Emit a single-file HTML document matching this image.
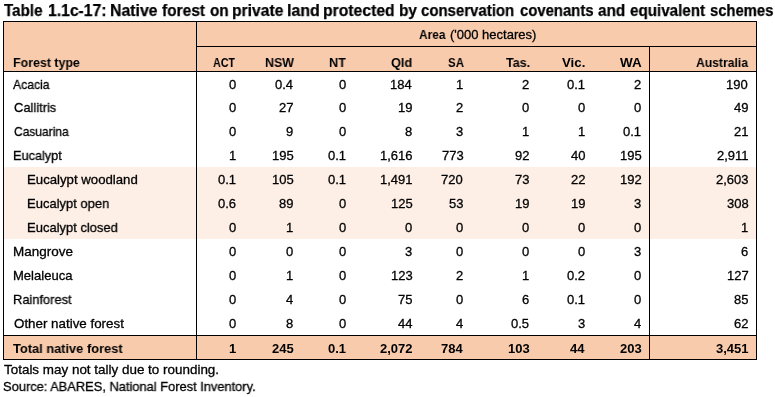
<!DOCTYPE html><html><head><meta charset="utf-8"><style>
html,body{margin:0;padding:0;background:#fff;width:775px;height:397px;overflow:hidden;position:relative}
body{font-family:"Liberation Sans",sans-serif;color:#000}
.t{position:absolute;white-space:nowrap;line-height:1;transform-origin:0 0;will-change:transform}
.b{position:absolute}
</style></head><body>
<div class="b" style="left:4px;top:22px;width:752px;height:49px;background:#F8CBAD"></div>
<div class="b" style="left:4px;top:167px;width:752px;height:72px;background:#FDEFE6"></div>
<div class="b" style="left:4px;top:336px;width:752px;height:23px;background:#F8CBAD"></div>
<div class="b" style="left:3px;top:21px;width:754px;height:1px;background:#000"></div>
<div class="b" style="left:3px;top:21px;width:1px;height:339px;background:#000"></div>
<div class="b" style="left:756px;top:21px;width:1px;height:339px;background:#000"></div>
<div class="b" style="left:3px;top:359px;width:754px;height:1px;background:#000"></div>
<div class="b" style="left:196px;top:21px;width:1px;height:339px;background:#000"></div>
<div class="b" style="left:196px;top:46px;width:561px;height:1px;background:#000"></div>
<div class="b" style="left:649px;top:46px;width:1px;height:314px;background:#000"></div>
<div class="b" style="left:3px;top:71px;width:754px;height:1px;background:#000"></div>
<div class="b" style="left:3px;top:335px;width:754px;height:1px;background:#000"></div>
<div class="t" style="left:4.20px;top:2px;font-size:16.5px;font-weight:bold;-webkit-text-stroke:0.25px #000;transform:scaleX(0.9190)">Table</div>
<div class="t" style="left:47.75px;top:2px;font-size:16.5px;font-weight:bold;-webkit-text-stroke:0.25px #000;transform:scaleX(0.9525)">1.1c-17:</div>
<div class="t" style="left:109.94px;top:2px;font-size:16.5px;font-weight:bold;-webkit-text-stroke:0.25px #000;transform:scaleX(0.9604)">Native</div>
<div class="t" style="left:161.70px;top:2px;font-size:16.5px;font-weight:bold;-webkit-text-stroke:0.25px #000;transform:scaleX(0.9391)">forest</div>
<div class="t" style="left:209.90px;top:2px;font-size:16.5px;font-weight:bold;-webkit-text-stroke:0.25px #000;transform:scaleX(0.9263)">on</div>
<div class="t" style="left:231.65px;top:2px;font-size:16.5px;font-weight:bold;-webkit-text-stroke:0.25px #000;transform:scaleX(0.9491)">private</div>
<div class="t" style="left:287.03px;top:2px;font-size:16.5px;font-weight:bold;-webkit-text-stroke:0.25px #000;transform:scaleX(0.9688)">land</div>
<div class="t" style="left:323.25px;top:2px;font-size:16.5px;font-weight:bold;-webkit-text-stroke:0.25px #000;transform:scaleX(0.9534)">protected</div>
<div class="t" style="left:399.27px;top:2px;font-size:16.5px;font-weight:bold;-webkit-text-stroke:0.25px #000;transform:scaleX(0.9333)">by</div>
<div class="t" style="left:421.40px;top:2px;font-size:16.5px;font-weight:bold;-webkit-text-stroke:0.25px #000;transform:scaleX(0.9078)">conservation</div>
<div class="t" style="left:520.00px;top:2px;font-size:16.5px;font-weight:bold;-webkit-text-stroke:0.25px #000;transform:scaleX(0.9012)">covenants</div>
<div class="t" style="left:598.00px;top:2px;font-size:16.5px;font-weight:bold;-webkit-text-stroke:0.25px #000;transform:scaleX(0.9276)">and</div>
<div class="t" style="left:629.80px;top:2px;font-size:16.5px;font-weight:bold;-webkit-text-stroke:0.25px #000;transform:scaleX(0.9207)">equivalent</div>
<div class="t" style="left:710.20px;top:2px;font-size:16.5px;font-weight:bold;-webkit-text-stroke:0.25px #000;transform:scaleX(0.8971)">schemes</div>
<div class="t" style="left:418.70px;top:28px;font-size:13.0px;font-weight:bold;transform:scaleX(0.9138)">Area</div>
<div class="t" style="left:449.90px;top:28px;font-size:13.0px;-webkit-text-stroke:0.3px #000;transform:scaleX(1.0000)">('000 hectares)</div>
<div class="t" style="left:12.65px;top:56px;font-size:13.0px;font-weight:bold;transform:scaleX(0.9536)">Forest type</div>
<div class="t" style="left:213.30px;top:56px;font-size:13.0px;font-weight:bold;transform:scaleX(0.8222)">ACT</div>
<div class="t" style="left:264.54px;top:56px;font-size:13.0px;font-weight:bold;transform:scaleX(0.9552)">NSW</div>
<div class="t" style="left:329.23px;top:56px;font-size:13.0px;font-weight:bold;transform:scaleX(0.9688)">NT</div>
<div class="t" style="left:391.00px;top:56px;font-size:13.0px;font-weight:bold;transform:scaleX(0.9762)">Qld</div>
<div class="t" style="left:447.71px;top:56px;font-size:13.0px;font-weight:bold;transform:scaleX(0.8882)">SA</div>
<div class="t" style="left:506.40px;top:56px;font-size:13.0px;font-weight:bold;transform:scaleX(0.9625)">Tas.</div>
<div class="t" style="left:562.40px;top:56px;font-size:13.0px;font-weight:bold;transform:scaleX(1.0182)">Vic.</div>
<div class="t" style="left:620.10px;top:56px;font-size:13.0px;font-weight:bold;transform:scaleX(1.0350)">WA</div>
<div class="t" style="left:695.70px;top:56px;font-size:13.0px;font-weight:bold;transform:scaleX(0.9339)">Australia</div>
<div class="t" style="left:13.10px;top:78px;font-size:13.0px;-webkit-text-stroke:0.3px #000;transform:scaleX(0.9359)">Acacia</div>
<div class="t" style="left:13.80px;top:101px;font-size:13.0px;-webkit-text-stroke:0.3px #000;transform:scaleX(0.9905)">Callitris</div>
<div class="t" style="left:13.80px;top:125px;font-size:13.0px;-webkit-text-stroke:0.3px #000;transform:scaleX(0.9233)">Casuarina</div>
<div class="t" style="left:12.82px;top:149px;font-size:13.0px;-webkit-text-stroke:0.3px #000;transform:scaleX(0.9776)">Eucalypt</div>
<div class="t" style="left:27.19px;top:173px;font-size:13.0px;-webkit-text-stroke:0.3px #000;transform:scaleX(1.0148)">Eucalypt woodland</div>
<div class="t" style="left:27.20px;top:197px;font-size:13.0px;-webkit-text-stroke:0.3px #000;transform:scaleX(0.9975)">Eucalypt open</div>
<div class="t" style="left:27.20px;top:221px;font-size:13.0px;-webkit-text-stroke:0.3px #000;transform:scaleX(0.9978)">Eucalypt closed</div>
<div class="t" style="left:12.76px;top:245px;font-size:13.0px;-webkit-text-stroke:0.3px #000;transform:scaleX(1.0357)">Mangrove</div>
<div class="t" style="left:12.80px;top:269px;font-size:13.0px;-webkit-text-stroke:0.3px #000;transform:scaleX(1.0034)">Melaleuca</div>
<div class="t" style="left:12.81px;top:293px;font-size:13.0px;-webkit-text-stroke:0.3px #000;transform:scaleX(0.9881)">Rainforest</div>
<div class="t" style="left:13.80px;top:317px;font-size:13.0px;-webkit-text-stroke:0.3px #000;transform:scaleX(1.0271)">Other native forest</div>
<div class="t" style="left:12.90px;top:342px;font-size:13.0px;font-weight:bold;transform:scaleX(0.9865)">Total native forest</div>
<div class="t" style="left:4.20px;top:363px;font-size:13.0px;-webkit-text-stroke:0.3px #000;transform:scaleX(1.0333)">Totals may not tally due to rounding.</div>
<div class="t" style="left:3.21px;top:380px;font-size:13.0px;-webkit-text-stroke:0.3px #000;transform:scaleX(0.9886)">Source: ABARES, National Forest Inventory.</div>
<div class="t" style="left:228.50px;top:78px;font-size:13.0px;-webkit-text-stroke:0.3px #000;">0</div>
<div class="t" style="left:275.30px;top:78px;font-size:13.0px;-webkit-text-stroke:0.3px #000;">0.4</div>
<div class="t" style="left:338.70px;top:78px;font-size:13.0px;-webkit-text-stroke:0.3px #000;">0</div>
<div class="t" style="left:389.60px;top:78px;font-size:13.0px;-webkit-text-stroke:0.3px #000;">184</div>
<div class="t" style="left:456.10px;top:78px;font-size:13.0px;-webkit-text-stroke:0.3px #000;">1</div>
<div class="t" style="left:522.20px;top:78px;font-size:13.0px;-webkit-text-stroke:0.3px #000;">2</div>
<div class="t" style="left:566.50px;top:78px;font-size:13.0px;-webkit-text-stroke:0.3px #000;">0.1</div>
<div class="t" style="left:633.80px;top:78px;font-size:13.0px;-webkit-text-stroke:0.3px #000;">2</div>
<div class="t" style="left:726.00px;top:78px;font-size:13.0px;-webkit-text-stroke:0.3px #000;">190</div>
<div class="t" style="left:228.50px;top:101px;font-size:13.0px;-webkit-text-stroke:0.3px #000;">0</div>
<div class="t" style="left:279.30px;top:101px;font-size:13.0px;-webkit-text-stroke:0.3px #000;">27</div>
<div class="t" style="left:338.70px;top:101px;font-size:13.0px;-webkit-text-stroke:0.3px #000;">0</div>
<div class="t" style="left:397.60px;top:101px;font-size:13.0px;-webkit-text-stroke:0.3px #000;">19</div>
<div class="t" style="left:456.10px;top:101px;font-size:13.0px;-webkit-text-stroke:0.3px #000;">2</div>
<div class="t" style="left:522.20px;top:101px;font-size:13.0px;-webkit-text-stroke:0.3px #000;">0</div>
<div class="t" style="left:577.50px;top:101px;font-size:13.0px;-webkit-text-stroke:0.3px #000;">0</div>
<div class="t" style="left:633.80px;top:101px;font-size:13.0px;-webkit-text-stroke:0.3px #000;">0</div>
<div class="t" style="left:734.00px;top:101px;font-size:13.0px;-webkit-text-stroke:0.3px #000;">49</div>
<div class="t" style="left:228.50px;top:125px;font-size:13.0px;-webkit-text-stroke:0.3px #000;">0</div>
<div class="t" style="left:286.30px;top:125px;font-size:13.0px;-webkit-text-stroke:0.3px #000;">9</div>
<div class="t" style="left:338.70px;top:125px;font-size:13.0px;-webkit-text-stroke:0.3px #000;">0</div>
<div class="t" style="left:404.60px;top:125px;font-size:13.0px;-webkit-text-stroke:0.3px #000;">8</div>
<div class="t" style="left:456.10px;top:125px;font-size:13.0px;-webkit-text-stroke:0.3px #000;">3</div>
<div class="t" style="left:522.20px;top:125px;font-size:13.0px;-webkit-text-stroke:0.3px #000;">1</div>
<div class="t" style="left:577.50px;top:125px;font-size:13.0px;-webkit-text-stroke:0.3px #000;">1</div>
<div class="t" style="left:622.80px;top:125px;font-size:13.0px;-webkit-text-stroke:0.3px #000;">0.1</div>
<div class="t" style="left:734.00px;top:125px;font-size:13.0px;-webkit-text-stroke:0.3px #000;">21</div>
<div class="t" style="left:228.50px;top:149px;font-size:13.0px;-webkit-text-stroke:0.3px #000;">1</div>
<div class="t" style="left:272.30px;top:149px;font-size:13.0px;-webkit-text-stroke:0.3px #000;">195</div>
<div class="t" style="left:327.70px;top:149px;font-size:13.0px;-webkit-text-stroke:0.3px #000;">0.1</div>
<div class="t" style="left:379.60px;top:149px;font-size:13.0px;-webkit-text-stroke:0.3px #000;">1,616</div>
<div class="t" style="left:442.10px;top:149px;font-size:13.0px;-webkit-text-stroke:0.3px #000;">773</div>
<div class="t" style="left:515.20px;top:149px;font-size:13.0px;-webkit-text-stroke:0.3px #000;">92</div>
<div class="t" style="left:570.50px;top:149px;font-size:13.0px;-webkit-text-stroke:0.3px #000;">40</div>
<div class="t" style="left:619.80px;top:149px;font-size:13.0px;-webkit-text-stroke:0.3px #000;">195</div>
<div class="t" style="left:717.00px;top:149px;font-size:13.0px;-webkit-text-stroke:0.3px #000;">2,911</div>
<div class="t" style="left:217.50px;top:173px;font-size:13.0px;-webkit-text-stroke:0.3px #000;">0.1</div>
<div class="t" style="left:272.30px;top:173px;font-size:13.0px;-webkit-text-stroke:0.3px #000;">105</div>
<div class="t" style="left:327.70px;top:173px;font-size:13.0px;-webkit-text-stroke:0.3px #000;">0.1</div>
<div class="t" style="left:379.60px;top:173px;font-size:13.0px;-webkit-text-stroke:0.3px #000;">1,491</div>
<div class="t" style="left:441.10px;top:173px;font-size:13.0px;-webkit-text-stroke:0.3px #000;">720</div>
<div class="t" style="left:515.20px;top:173px;font-size:13.0px;-webkit-text-stroke:0.3px #000;">73</div>
<div class="t" style="left:570.50px;top:173px;font-size:13.0px;-webkit-text-stroke:0.3px #000;">22</div>
<div class="t" style="left:619.80px;top:173px;font-size:13.0px;-webkit-text-stroke:0.3px #000;">192</div>
<div class="t" style="left:716.00px;top:173px;font-size:13.0px;-webkit-text-stroke:0.3px #000;">2,603</div>
<div class="t" style="left:217.50px;top:197px;font-size:13.0px;-webkit-text-stroke:0.3px #000;">0.6</div>
<div class="t" style="left:279.30px;top:197px;font-size:13.0px;-webkit-text-stroke:0.3px #000;">89</div>
<div class="t" style="left:338.70px;top:197px;font-size:13.0px;-webkit-text-stroke:0.3px #000;">0</div>
<div class="t" style="left:390.60px;top:197px;font-size:13.0px;-webkit-text-stroke:0.3px #000;">125</div>
<div class="t" style="left:449.10px;top:197px;font-size:13.0px;-webkit-text-stroke:0.3px #000;">53</div>
<div class="t" style="left:515.20px;top:197px;font-size:13.0px;-webkit-text-stroke:0.3px #000;">19</div>
<div class="t" style="left:570.50px;top:197px;font-size:13.0px;-webkit-text-stroke:0.3px #000;">19</div>
<div class="t" style="left:633.80px;top:197px;font-size:13.0px;-webkit-text-stroke:0.3px #000;">3</div>
<div class="t" style="left:727.00px;top:197px;font-size:13.0px;-webkit-text-stroke:0.3px #000;">308</div>
<div class="t" style="left:228.50px;top:221px;font-size:13.0px;-webkit-text-stroke:0.3px #000;">0</div>
<div class="t" style="left:286.30px;top:221px;font-size:13.0px;-webkit-text-stroke:0.3px #000;">1</div>
<div class="t" style="left:338.70px;top:221px;font-size:13.0px;-webkit-text-stroke:0.3px #000;">0</div>
<div class="t" style="left:404.60px;top:221px;font-size:13.0px;-webkit-text-stroke:0.3px #000;">0</div>
<div class="t" style="left:456.10px;top:221px;font-size:13.0px;-webkit-text-stroke:0.3px #000;">0</div>
<div class="t" style="left:522.20px;top:221px;font-size:13.0px;-webkit-text-stroke:0.3px #000;">0</div>
<div class="t" style="left:577.50px;top:221px;font-size:13.0px;-webkit-text-stroke:0.3px #000;">0</div>
<div class="t" style="left:633.80px;top:221px;font-size:13.0px;-webkit-text-stroke:0.3px #000;">0</div>
<div class="t" style="left:741.00px;top:221px;font-size:13.0px;-webkit-text-stroke:0.3px #000;">1</div>
<div class="t" style="left:228.50px;top:245px;font-size:13.0px;-webkit-text-stroke:0.3px #000;">0</div>
<div class="t" style="left:286.30px;top:245px;font-size:13.0px;-webkit-text-stroke:0.3px #000;">0</div>
<div class="t" style="left:338.70px;top:245px;font-size:13.0px;-webkit-text-stroke:0.3px #000;">0</div>
<div class="t" style="left:404.60px;top:245px;font-size:13.0px;-webkit-text-stroke:0.3px #000;">3</div>
<div class="t" style="left:456.10px;top:245px;font-size:13.0px;-webkit-text-stroke:0.3px #000;">0</div>
<div class="t" style="left:522.20px;top:245px;font-size:13.0px;-webkit-text-stroke:0.3px #000;">0</div>
<div class="t" style="left:577.50px;top:245px;font-size:13.0px;-webkit-text-stroke:0.3px #000;">0</div>
<div class="t" style="left:633.80px;top:245px;font-size:13.0px;-webkit-text-stroke:0.3px #000;">3</div>
<div class="t" style="left:741.00px;top:245px;font-size:13.0px;-webkit-text-stroke:0.3px #000;">6</div>
<div class="t" style="left:228.50px;top:269px;font-size:13.0px;-webkit-text-stroke:0.3px #000;">0</div>
<div class="t" style="left:286.30px;top:269px;font-size:13.0px;-webkit-text-stroke:0.3px #000;">1</div>
<div class="t" style="left:338.70px;top:269px;font-size:13.0px;-webkit-text-stroke:0.3px #000;">0</div>
<div class="t" style="left:390.60px;top:269px;font-size:13.0px;-webkit-text-stroke:0.3px #000;">123</div>
<div class="t" style="left:456.10px;top:269px;font-size:13.0px;-webkit-text-stroke:0.3px #000;">2</div>
<div class="t" style="left:522.20px;top:269px;font-size:13.0px;-webkit-text-stroke:0.3px #000;">1</div>
<div class="t" style="left:566.50px;top:269px;font-size:13.0px;-webkit-text-stroke:0.3px #000;">0.2</div>
<div class="t" style="left:633.80px;top:269px;font-size:13.0px;-webkit-text-stroke:0.3px #000;">0</div>
<div class="t" style="left:727.00px;top:269px;font-size:13.0px;-webkit-text-stroke:0.3px #000;">127</div>
<div class="t" style="left:228.50px;top:293px;font-size:13.0px;-webkit-text-stroke:0.3px #000;">0</div>
<div class="t" style="left:286.30px;top:293px;font-size:13.0px;-webkit-text-stroke:0.3px #000;">4</div>
<div class="t" style="left:338.70px;top:293px;font-size:13.0px;-webkit-text-stroke:0.3px #000;">0</div>
<div class="t" style="left:397.60px;top:293px;font-size:13.0px;-webkit-text-stroke:0.3px #000;">75</div>
<div class="t" style="left:456.10px;top:293px;font-size:13.0px;-webkit-text-stroke:0.3px #000;">0</div>
<div class="t" style="left:522.20px;top:293px;font-size:13.0px;-webkit-text-stroke:0.3px #000;">6</div>
<div class="t" style="left:566.50px;top:293px;font-size:13.0px;-webkit-text-stroke:0.3px #000;">0.1</div>
<div class="t" style="left:633.80px;top:293px;font-size:13.0px;-webkit-text-stroke:0.3px #000;">0</div>
<div class="t" style="left:734.00px;top:293px;font-size:13.0px;-webkit-text-stroke:0.3px #000;">85</div>
<div class="t" style="left:228.50px;top:317px;font-size:13.0px;-webkit-text-stroke:0.3px #000;">0</div>
<div class="t" style="left:286.30px;top:317px;font-size:13.0px;-webkit-text-stroke:0.3px #000;">8</div>
<div class="t" style="left:338.70px;top:317px;font-size:13.0px;-webkit-text-stroke:0.3px #000;">0</div>
<div class="t" style="left:397.60px;top:317px;font-size:13.0px;-webkit-text-stroke:0.3px #000;">44</div>
<div class="t" style="left:456.10px;top:317px;font-size:13.0px;-webkit-text-stroke:0.3px #000;">4</div>
<div class="t" style="left:511.20px;top:317px;font-size:13.0px;-webkit-text-stroke:0.3px #000;">0.5</div>
<div class="t" style="left:577.50px;top:317px;font-size:13.0px;-webkit-text-stroke:0.3px #000;">3</div>
<div class="t" style="left:633.80px;top:317px;font-size:13.0px;-webkit-text-stroke:0.3px #000;">4</div>
<div class="t" style="left:734.00px;top:317px;font-size:13.0px;-webkit-text-stroke:0.3px #000;">62</div>
<div class="t" style="left:228.50px;top:342px;font-size:13.0px;font-weight:bold;">1</div>
<div class="t" style="left:272.30px;top:342px;font-size:13.0px;font-weight:bold;">245</div>
<div class="t" style="left:327.70px;top:342px;font-size:13.0px;font-weight:bold;">0.1</div>
<div class="t" style="left:379.60px;top:342px;font-size:13.0px;font-weight:bold;">2,072</div>
<div class="t" style="left:441.10px;top:342px;font-size:13.0px;font-weight:bold;">784</div>
<div class="t" style="left:508.20px;top:342px;font-size:13.0px;font-weight:bold;">103</div>
<div class="t" style="left:569.50px;top:342px;font-size:13.0px;font-weight:bold;">44</div>
<div class="t" style="left:619.80px;top:342px;font-size:13.0px;font-weight:bold;">203</div>
<div class="t" style="left:716.00px;top:342px;font-size:13.0px;font-weight:bold;">3,451</div>
</body></html>
